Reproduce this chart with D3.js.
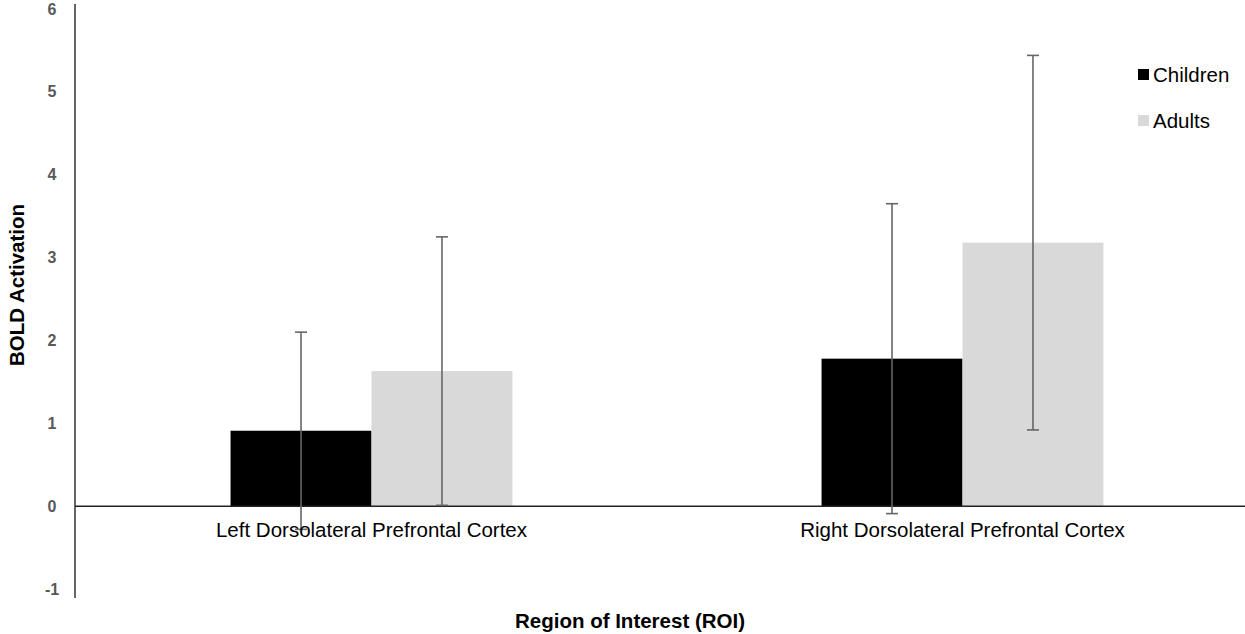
<!DOCTYPE html>
<html>
<head>
<meta charset="utf-8">
<script src="https://cdn.jsdelivr.net/npm/d3@7"></script>
<style>
  body { margin: 0; background: #fff; }
  text { font-family: "Liberation Sans", Arial, sans-serif; }
</style>
</head>
<body>
<div id="chart"></div>
<script>
var width = 1245;
var height = 634;

var regions = ["Left Dorsolateral Prefrontal Cortex", "Right Dorsolateral Prefrontal Cortex"];
var groups = ["Children", "Adults"];
var children = [0.91, 1.78];
var adults = [1.63, 3.18];
var childrenErr = [1.19, 1.87];
var adultsErr = [1.62, 2.26];
var yTicks = [-1, 0, 1, 2, 3, 4, 5, 6];
var colors = {Children: "#000000", Adults: "#d9d9d9"};

var rows = [];
for (var i = 0; i < regions.length; i++) {
  rows.push({region: regions[i], group: "Children", value: children[i], err: childrenErr[i]});
  rows.push({region: regions[i], group: "Adults", value: adults[i], err: adultsErr[i]});
}

var svg = d3.select("#chart")
  .append("svg")
  .attr("width", width)
  .attr("height", height);

var xScale = d3.scaleBand()
  .domain(regions)
  .range([76, 1258])
  .paddingInner(0.523)
  .paddingOuter(0.2615);

var xInner = d3.scaleBand()
  .domain(groups)
  .range([0, xScale.bandwidth()]);

var yScale = d3.scaleLinear()
  .domain([-1, 6])
  .range([589, 9]);

// y axis
var yAxis = d3.axisLeft(yScale)
  .tickValues(yTicks)
  .tickSize(0)
  .tickPadding(18)
  .tickFormat(function(d) { return String(d); });

var gy = svg.append("g")
  .attr("transform", "translate(75,0)")
  .call(yAxis);
gy.select(".domain").attr("stroke", "#333").attr("stroke-width", 1.5)
  .attr("d", "M0,4V598");
gy.selectAll("text")
  .attr("fill", "#595959")
  .attr("font-size", "16px")
  .attr("font-family", "'DejaVu Sans', sans-serif")
  .attr("font-weight", "bold")
  .attr("text-anchor", "middle")
  .attr("dx", "-5");

// bars
svg.append("g").selectAll("rect")
  .data(rows)
  .enter()
  .append("rect")
  .attr("x", function(d) { return xScale(d.region) + xInner(d.group); })
  .attr("width", xInner.bandwidth())
  .attr("y", function(d) { return yScale(d.value); })
  .attr("height", function(d) { return yScale(0) - yScale(d.value); })
  .attr("fill", function(d) { return colors[d.group]; });

// x axis line at zero
svg.append("line")
  .attr("x1", 75)
  .attr("x2", width)
  .attr("y1", yScale(0))
  .attr("y2", yScale(0))
  .attr("stroke", "#222")
  .attr("stroke-width", 1.5);

// error bars
var eb = svg.append("g").selectAll("g")
  .data(rows)
  .enter()
  .append("g")
  .attr("stroke", "#666")
  .attr("stroke-width", 1.6);
function cx(d) { return xScale(d.region) + xInner(d.group) + xInner.bandwidth() / 2; }
eb.append("line")
  .attr("x1", cx).attr("x2", cx)
  .attr("y1", function(d) { return yScale(d.value + d.err); })
  .attr("y2", function(d) { return yScale(d.value - d.err); });
eb.append("line")
  .attr("x1", function(d) { return cx(d) - 6; })
  .attr("x2", function(d) { return cx(d) + 6; })
  .attr("y1", function(d) { return yScale(d.value + d.err); })
  .attr("y2", function(d) { return yScale(d.value + d.err); });
eb.append("line")
  .attr("x1", function(d) { return cx(d) - 6; })
  .attr("x2", function(d) { return cx(d) + 6; })
  .attr("y1", function(d) { return yScale(d.value - d.err); })
  .attr("y2", function(d) { return yScale(d.value - d.err); });

// category labels
var xAxis = d3.axisBottom(xScale).tickSize(0).tickPadding(16);
var gx = svg.append("g")
  .attr("transform", "translate(0," + yScale(0) + ")")
  .call(xAxis);
gx.select(".domain").remove();
gx.selectAll("text")
  .attr("fill", "#000")
  .attr("font-size", "20.5px")
  .attr("font-family", "'Liberation Sans', Arial, sans-serif");

// axis titles
svg.append("text")
  .attr("transform", "translate(24,285) rotate(-90)")
  .attr("text-anchor", "middle")
  .attr("font-size", "20.5px")
  .attr("font-weight", "bold")
  .text("BOLD Activation");

svg.append("text")
  .attr("x", 630)
  .attr("y", 628)
  .attr("text-anchor", "middle")
  .attr("font-size", "20.5px")
  .attr("font-weight", "bold")
  .text("Region of Interest (ROI)");

// legend
var legend = svg.append("g").selectAll("g")
  .data(groups)
  .enter()
  .append("g")
  .attr("transform", function(d, i) { return "translate(1138," + (69 + i * 46) + ")"; });
legend.append("rect")
  .attr("width", 11)
  .attr("height", 11)
  .attr("fill", function(d) { return colors[d]; });
legend.append("text")
  .attr("x", 15)
  .attr("y", 13)
  .attr("font-size", "20.5px")
  .text(function(d) { return d; });
</script>
</body>
</html>
